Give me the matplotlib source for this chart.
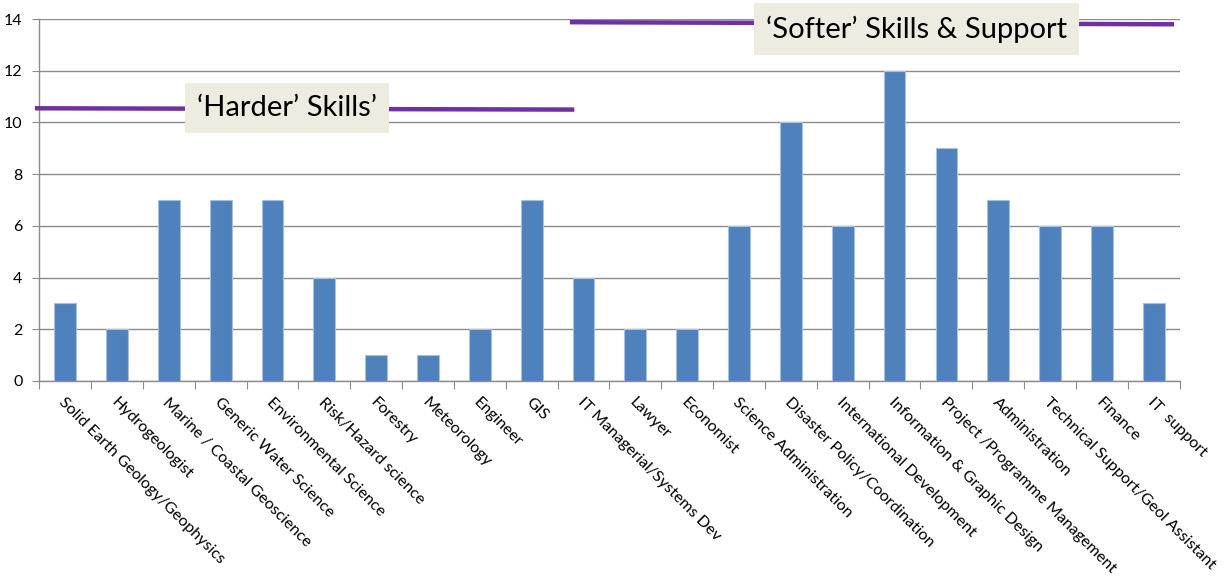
import matplotlib
matplotlib.use("Agg")
import matplotlib.pyplot as plt
import numpy as np

plt.rcParams['font.family'] = ['Lato', 'DejaVu Sans']

categories = [
    "Solid Earth Geology/Geophysics", "Hydrogeologist", "Marine / Coastal Geoscience",
    "Generic Water Science", "Environmental Science", "Risk/Hazard science", "Forestry",
    "Meteorology", "Engineer", "GIS", "IT Managerial/Systems Dev", "Lawyer", "Economist",
    "Science Administration", "Disaster Policy/Coordination", "International Development",
    "Information & Graphic Design", "Project /Programme Management", "Administration",
    "Technical Support/Geol Assistant", "Finance", "IT  support",
]
counts = [3, 2, 7, 7, 7, 4, 1, 1, 2, 7, 4, 2, 2, 6, 10, 6, 12, 9, 7, 6, 6, 3]

# group bracket lines (x from, x to, y from, y to) and labels
harder_line = ([-0.54, 9.78], [10.55, 10.5])
softer_line = ([9.78, 21.35], [13.88, 13.8])
harder_label = (4.28, 10.56, "\u2018Harder\u2019 Skills\u2019")
softer_label = (16.42, 13.62, "\u2018Softer\u2019 Skills & Support")

fig = plt.figure(figsize=(12.25, 5.79), dpi=100)
ax = fig.add_axes([0.032, 0.342, 0.931, 0.625])

x = np.arange(len(categories))
ax.bar(x, counts, width=0.42, color='#4F81BD', edgecolor='#A7C0DE', linewidth=0.8, zorder=3)

ax.set_xlim(-0.5, len(categories) - 0.5)
ax.set_ylim(0, 14)
ax.set_yticks(range(0, 15, 2))
ax.yaxis.grid(True, color='#8C8C8C', linewidth=1.0, zorder=0)
ax.set_axisbelow(True)

for s in ['top', 'right']:
    ax.spines[s].set_visible(False)
for s in ['left', 'bottom']:
    ax.spines[s].set_color('#8C8C8C')
    ax.spines[s].set_linewidth(1.0)

ax.set_xticks(np.arange(-0.5, len(categories)), minor=False)
ax.set_xticklabels([])
ax.tick_params(axis='x', length=6, color='#8C8C8C')
ax.tick_params(axis='y', length=5, color='#8C8C8C', labelsize=11.5, pad=7)

for i, name in enumerate(categories):
    ax.text(i + 0.02, -0.55, name, rotation=-45, rotation_mode='anchor',
            ha='left', va='top', fontsize=11.6, color='black')

ax.plot(harder_line[0], harder_line[1], color='#7030A0', linewidth=3.2, clip_on=False, zorder=4)
ax.plot(softer_line[0], softer_line[1], color='#7030A0', linewidth=3.2, clip_on=False, zorder=4)

box = dict(boxstyle='square,pad=0.42', facecolor='#EEEBE0', edgecolor='none')
for lx, ly, txt in [harder_label, softer_label]:
    ax.text(lx, ly, txt, ha='center', va='center', fontsize=21, color='black',
            bbox=box, zorder=5, clip_on=False)

fig.savefig('out.png', dpi=100)
